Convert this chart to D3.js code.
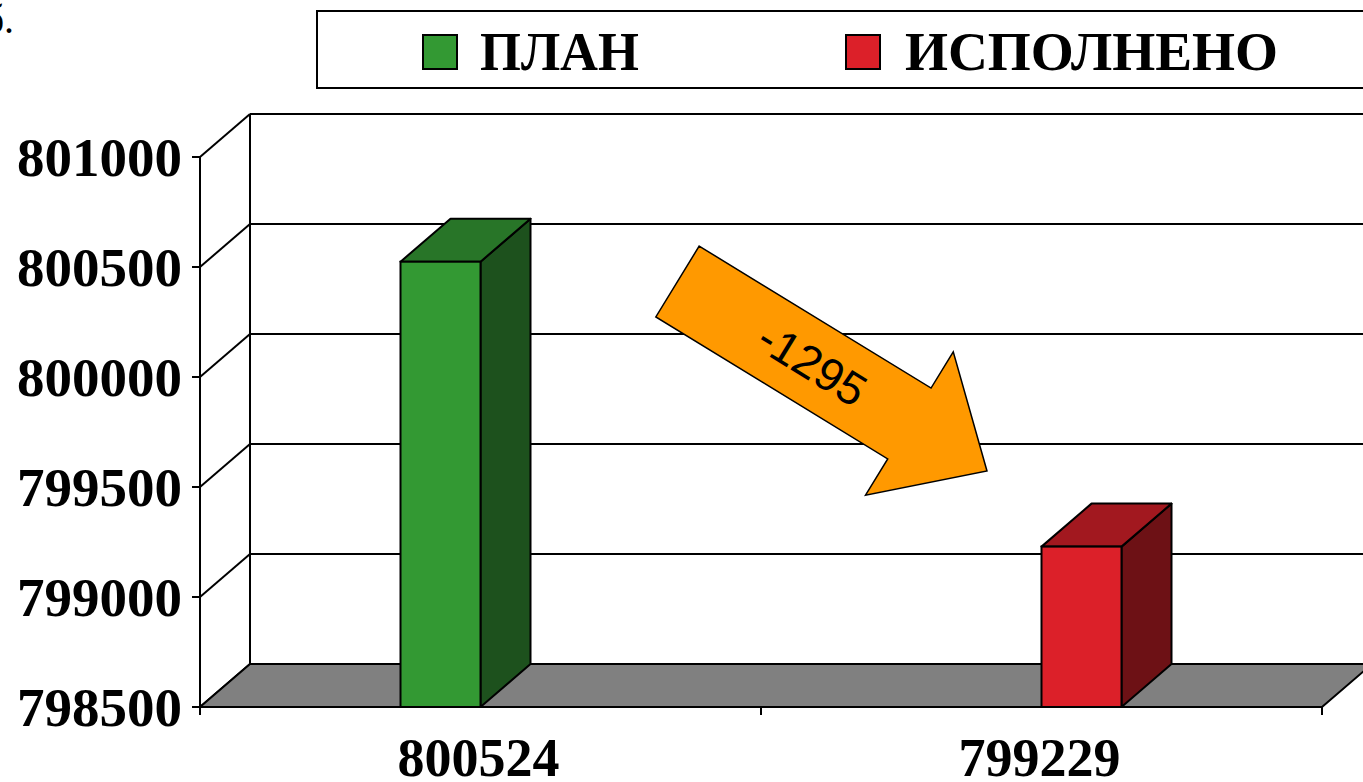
<!DOCTYPE html>
<html>
<head>
<meta charset="utf-8">
<script src="https://cdn.jsdelivr.net/npm/d3@7"></script>
<style>
  html, body { margin: 0; padding: 0; background: #fff; overflow: hidden; }
  svg { display: block; }
</style>
</head>
<body>
<svg id="chart" width="1363" height="782"></svg>
<script>
// ---- data ----
const categories = ["800524", "799229"];
const seriesNames = ["ПЛАН", "ИСПОЛНЕНО"];
const planValues = [800524, null];
const doneValues = [null, 799229];
const yTicks = [798500, 799000, 799500, 800000, 800500, 801000];
const diffLabel = "-1295";
const unitLabel = "б.";

const seriesColors = {
  "ПЛАН": { front: "#339933", top: "#287528", side: "#1d511d" },
  "ИСПОЛНЕНО": { front: "#dc2029", top: "#a2181f", side: "#6d1115" }
};

(function () {
const svg = d3.select("#chart");
const serif = "'Liberation Serif', 'Times New Roman', serif";
const sans = "'Liberation Sans', Arial, sans-serif";

// geometry
const pLeft = 200, pRight = 1322, pBottom = 707, pTop = 157;
const dx = 50, dy = -43;

const x = d3.scaleBand().domain(categories).range([pLeft, pRight]).padding(0);
const xs = d3.scaleBand().domain(seriesNames).range([-80, 80]).padding(0);
const y = d3.scaleLinear().domain([798500, 801000]).range([pBottom, pTop]);

// unit label (partly cut at top-left, as in the original)
svg.append("text").attr("x", 14).attr("y", 33)
  .attr("text-anchor", "end")
  .attr("font-family", serif).attr("font-size", 40)
  .text(unitLabel);

const g = svg.append("g");
// back wall gridlines + left wall diagonals
yTicks.forEach(t => {
  if (t !== 798500) {
    g.append("line")
      .attr("x1", pLeft + dx).attr("x2", pRight + dx)
      .attr("y1", y(t) + dy).attr("y2", y(t) + dy)
      .attr("stroke", "#000").attr("stroke-width", 2);
  }
  g.append("line")
    .attr("x1", pLeft).attr("y1", y(t))
    .attr("x2", pLeft + dx).attr("y2", y(t) + dy)
    .attr("stroke", "#000").attr("stroke-width", 2);
});
g.append("line").attr("x1", pLeft + dx).attr("x2", pLeft + dx)
  .attr("y1", y(801000) + dy).attr("y2", y(798500) + dy)
  .attr("stroke", "#000").attr("stroke-width", 2);

// floor
g.append("polygon")
  .attr("points", [[pLeft, pBottom], [pRight, pBottom], [pRight + dx, pBottom + dy], [pLeft + dx, pBottom + dy]].join(" "))
  .attr("fill", "#808080").attr("stroke", "#000").attr("stroke-width", 2);

// front y axis
g.append("line").attr("x1", pLeft).attr("x2", pLeft)
  .attr("y1", y(801000)).attr("y2", y(798500))
  .attr("stroke", "#000").attr("stroke-width", 2);
yTicks.forEach(t => {
  g.append("line").attr("x1", pLeft - 8).attr("x2", pLeft)
    .attr("y1", y(t)).attr("y2", y(t))
    .attr("stroke", "#000").attr("stroke-width", 2);
  g.append("text").attr("x", 182).attr("y", y(t) + 19)
    .attr("text-anchor", "end")
    .attr("font-family", serif).attr("font-weight", "bold").attr("font-size", 55)
    .text(t);
});

// x axis ticks and labels
[pLeft, pLeft + x.bandwidth(), pRight].forEach(px => {
  g.append("line").attr("x1", px).attr("x2", px)
    .attr("y1", pBottom).attr("y2", pBottom + 8)
    .attr("stroke", "#000").attr("stroke-width", 2);
});
categories.forEach(c => {
  g.append("text").attr("x", x(c) + x.bandwidth() / 2 - 2).attr("y", 776)
    .attr("text-anchor", "middle")
    .attr("font-family", serif).attr("font-weight", "bold").attr("font-size", 54)
    .text(c);
});

// bars
const barData = [];
categories.forEach((c, i) => {
  if (planValues[i] != null) barData.push({ cat: c, s: "ПЛАН", v: planValues[i] });
  if (doneValues[i] != null) barData.push({ cat: c, s: "ИСПОЛНЕНО", v: doneValues[i] });
});
const bars = g.selectAll("g.bar").data(barData).enter().append("g").attr("class", "bar");
bars.each(function (d) {
  const sel = d3.select(this);
  const x0 = x(d.cat) + x.bandwidth() / 2 + xs(d.s);
  const x1 = x0 + xs.bandwidth();
  const yt = y(d.v), yb = y(798500);
  const col = seriesColors[d.s];
  sel.append("polygon")
    .attr("points", [[x1, yt], [x1 + dx, yt + dy], [x1 + dx, yb + dy], [x1, yb]].join(" "))
    .attr("fill", col.side).attr("stroke", "#000").attr("stroke-width", 2).attr("stroke-linejoin", "round");
  sel.append("polygon")
    .attr("points", [[x0, yt], [x1, yt], [x1 + dx, yt + dy], [x0 + dx, yt + dy]].join(" "))
    .attr("fill", col.top).attr("stroke", "#000").attr("stroke-width", 2).attr("stroke-linejoin", "round");
  sel.append("rect")
    .attr("x", x0).attr("y", yt).attr("width", x1 - x0).attr("height", yb - yt)
    .attr("fill", col.front).attr("stroke", "#000").attr("stroke-width", 2);
});

// arrow annotation
const tail = [677.5, 281.5], tip = [987, 471];
const ang = Math.atan2(tip[1] - tail[1], tip[0] - tail[0]);
const len = Math.hypot(tip[0] - tail[0], tip[1] - tail[1]);
const shaftW = 41.5, headW = 84, headL = 91;
const arrowPts = [[0, -shaftW], [len - headL, -shaftW], [len - headL, -headW], [len, 0],
  [len - headL, headW], [len - headL, shaftW], [0, shaftW]];
const ag = svg.append("g")
  .attr("transform", `translate(${tail[0]},${tail[1]}) rotate(${ang * 180 / Math.PI})`);
ag.append("polygon").attr("points", arrowPts.join(" "))
  .attr("fill", "#ff9900").attr("stroke", "#000").attr("stroke-width", 1.5);
ag.append("text").attr("x", 158).attr("y", 16)
  .attr("text-anchor", "middle")
  .attr("font-family", sans).attr("font-size", 46)
  .text(diffLabel);

// legend
const lg = svg.append("g");
lg.append("rect").attr("x", 317).attr("y", 11).attr("width", 1100).attr("height", 77)
  .attr("fill", "#fff").attr("stroke", "#000").attr("stroke-width", 2);
const legendPos = [{ sx: 423, tx: 480, w: 159 }, { sx: 846, tx: 905, w: 373 }];
seriesNames.forEach((s, i) => {
  lg.append("rect").attr("x", legendPos[i].sx).attr("y", 35).attr("width", 34).attr("height", 34)
    .attr("fill", seriesColors[s].front).attr("stroke", "#000").attr("stroke-width", 2);
  lg.append("text").attr("x", legendPos[i].tx).attr("y", 70)
    .attr("font-family", serif).attr("font-weight", "bold").attr("font-size", 54)
    .attr("textLength", legendPos[i].w).attr("lengthAdjust", "spacingAndGlyphs")
    .text(s);
});
})();
</script>
</body>
</html>
